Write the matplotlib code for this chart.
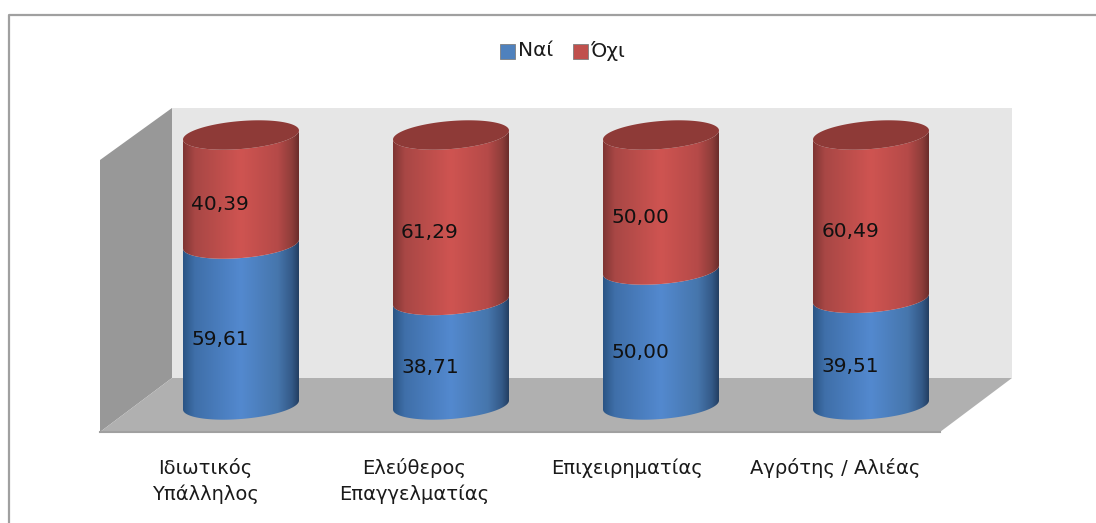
import numpy as np
import matplotlib
matplotlib.use("Agg")
import matplotlib.pyplot as plt
from matplotlib.colors import LinearSegmentedColormap
from matplotlib.patches import Polygon, Rectangle

categories = ["Ιδιωτικός\nΥπάλληλος", "Ελεύθερος\nΕπαγγελματίας", "Επιχειρηματίας", "Αγρότης / Αλιέας"]
nai = [59.61, 38.71, 50.00, 39.51]
ochi = [40.39, 61.29, 50.00, 60.49]
series_names = ["Ναί", "Όχι"]

W, H = 1096, 523
X0, DX = 241, 210   # pixel x of first category, pixels per category
Y0, DY = 405, 2.7   # pixel y of value 0, pixels per unit
LABEL_X = [205, 414, 627, 835]


def px(x, y):
    # picture pixels to data coordinates, for the frame and the walls
    return (x - X0) / DX, (Y0 - y) / DY


# elliptical ring at value v, tilted a little like the 3D view in the picture
def ring(i, v, t):
    rx, ry, tilt = 58 / DX, 14 / DY, 4.5 / DY
    return i + rx * np.cos(t), v + ry * np.sin(t) + tilt * np.cos(t)


def cylinder(ax, i, v0, v1, cmap, zorder):
    front = np.linspace(np.pi, 2 * np.pi, 60)
    xb, yb = ring(i, v0, front)
    xt, yt = ring(i, v1, front[::-1])
    poly = Polygon(np.column_stack([np.r_[xb, xt], np.r_[yb, yt]]), closed=True,
                   facecolor="none", edgecolor="none", transform=ax.transData)
    ax.add_patch(poly)
    grad = np.linspace(0, 1, 256).reshape(1, -1)
    im = ax.imshow(grad, cmap=cmap, aspect="auto", zorder=zorder, interpolation="bilinear",
                   extent=[i - 58 / DX, i + 58 / DX, v0 - 20, v1 + 20])
    im.set_clip_path(poly)


fig = plt.figure(figsize=(W / 100, H / 100), dpi=100)
ax = fig.add_axes([0, 0, 1, 1])
ax.axis("off")
plt.rcParams["font.family"] = "DejaVu Sans"

# outer frame, only top and left are inside the crop
ax.plot(*zip(px(9, 523), px(9, 14.5), px(1096, 14.5)), color="#a0a0a0", lw=1.6, zorder=1)

# walls and floor
side = [px(100, 160), px(172, 108), px(172, 378), px(100, 432)]
back = [px(172, 108), px(1012, 108), px(1012, 378), px(172, 378)]
floor = [px(100, 432), px(172, 378), px(1012, 378), px(940, 432)]
ax.add_patch(Polygon(back, facecolor="#e6e6e6", edgecolor="none", zorder=1))
ax.add_patch(Polygon(side, facecolor="#989898", edgecolor="none", zorder=1))
ax.add_patch(Polygon(floor, facecolor="#b0b0b0", edgecolor="none", zorder=1))
ax.plot(*zip(px(100, 432), px(940, 432)), color="#a0a0a0", lw=1.5, zorder=2)

blue = LinearSegmentedColormap.from_list("blue", [(0, "#2a5484"), (0.1, "#3f6fa9"), (0.5, "#5389cf"), (0.82, "#4676ac"), (0.94, "#345a88"), (1, "#233f62")])
red = LinearSegmentedColormap.from_list("red", [(0, "#7f3533"), (0.1, "#a84745"), (0.5, "#cf5451"), (0.82, "#b54a48"), (0.94, "#8f3d3a"), (1, "#6b2d2b")])

for i in range(len(categories)):
    cylinder(ax, i, 0, nai[i], blue, 3)
    cylinder(ax, i, nai[i], nai[i] + ochi[i], red, 4)
    # top cap of the cylinder
    t = np.linspace(0, 2 * np.pi, 120)
    xc, yc = ring(i, nai[i] + ochi[i], t)
    ax.add_patch(Polygon(np.column_stack([xc, yc]), facecolor="#8e3a37", edgecolor="none", zorder=5))
    # value labels sit a bit under the middle of each segment, decimal comma as in the source
    ax.text(i - 0.1, nai[i] / 2 - 15 / DY, f"{nai[i]:.2f}".replace(".", ","), fontsize=14.5,
            color="#111111", ha="center", va="center", zorder=6)
    ax.text(i - 0.1, nai[i] + ochi[i] / 2 - 15 / DY, f"{ochi[i]:.2f}".replace(".", ","), fontsize=14.5,
            color="#111111", ha="center", va="center", zorder=6)
    ax.text(*px(LABEL_X[i], 458), categories[i], fontsize=14, color="#1a1a1a",
            ha="center", va="top", linespacing=1.45, zorder=6)

# legend
for x_box, x_txt, name, col in [(500, 518, series_names[0], "#4f81bd"), (573, 590, series_names[1], "#c0504d")]:
    x, y = px(x_box, 59)
    ax.add_patch(Rectangle((x, y), 15 / DX, 15 / DY, facecolor=col, edgecolor="#7f7f7f", lw=0.6, zorder=6))
    ax.text(*px(x_txt, 51), name, fontsize=14.5, color="#1a1a1a", ha="left", va="center", zorder=6)

ax.set_xlim(-X0 / DX, (W - X0) / DX)
ax.set_ylim((Y0 - H) / DY, Y0 / DY)
fig.savefig("out.png", dpi=100)
